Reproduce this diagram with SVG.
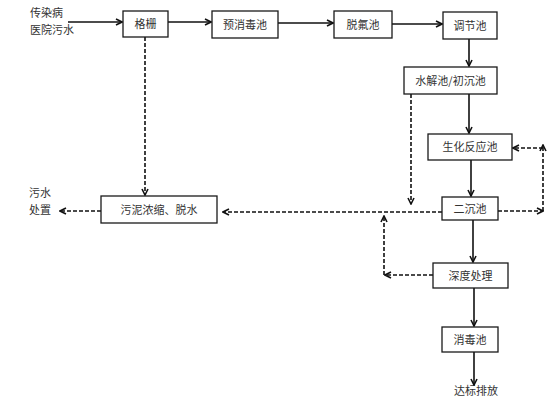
<svg xmlns="http://www.w3.org/2000/svg" width="554" height="409" viewBox="0 0 554 409">
<style>
.box{fill:#fff;stroke:#1a1a1a;stroke-width:1.3}
.t{font-family:"Noto Sans CJK SC","Liberation Sans",sans-serif;font-size:11px;fill:#333}
.m{text-anchor:middle}
.s{stroke:#111;stroke-width:1.6;fill:none}
.d{stroke:#111;stroke-width:1.6;fill:none;stroke-dasharray:4 2}
</style>
<defs>
<marker id="ah" viewBox="0 0 8 8" refX="7" refY="4" markerWidth="8" markerHeight="8" markerUnits="userSpaceOnUse" orient="auto">
<path d="M1,1 L7,4 L1,7" fill="none" stroke="#111" stroke-width="1.6"/>
</marker>
</defs>
<rect width="554" height="409" fill="#fff"/>
<g id="labels">
<text class="t" x="30" y="17">传染病</text>
<text class="t" x="30" y="34">医院污水</text>
<text class="t" x="29" y="197">污水</text>
<text class="t" x="29" y="214">处置</text>
<text class="t m" x="476" y="395">达标排放</text>
</g>
<g id="connectors">
<line class="s" x1="68" y1="22" x2="122" y2="22" marker-end="url(#ah)"/>
<line class="s" x1="168" y1="22" x2="211" y2="22" marker-end="url(#ah)"/>
<line class="s" x1="278" y1="23" x2="333" y2="23" marker-end="url(#ah)"/>
<line class="s" x1="392" y1="24" x2="442" y2="24" marker-end="url(#ah)"/>
<line class="s" x1="469" y1="39" x2="469" y2="66" marker-end="url(#ah)"/>
<line class="s" x1="469" y1="94" x2="469" y2="133" marker-end="url(#ah)"/>
<line class="s" x1="471" y1="160" x2="471" y2="196" marker-end="url(#ah)"/>
<line class="s" x1="473" y1="220" x2="473" y2="262" marker-end="url(#ah)"/>
<line class="s" x1="474" y1="288" x2="474" y2="326" marker-end="url(#ah)"/>
<line class="s" x1="474" y1="352" x2="474" y2="385" marker-end="url(#ah)"/>
<line class="d" x1="145" y1="37" x2="145" y2="195" marker-end="url(#ah)"/>
<line class="d" x1="101" y1="211" x2="60" y2="211" marker-end="url(#ah)"/>
<line class="d" x1="411" y1="94" x2="411" y2="204" marker-end="url(#ah)"/>
<line class="d" x1="442" y1="212" x2="223" y2="212" marker-end="url(#ah)"/>
<line class="d" x1="498" y1="211" x2="543" y2="211" marker-end="url(#ah)"/>
<line class="d" x1="543" y1="211" x2="543" y2="145" marker-end="url(#ah)"/>
<line class="d" x1="543" y1="148" x2="513" y2="148" marker-end="url(#ah)"/>
<line class="d" x1="433" y1="275" x2="385" y2="275" marker-end="url(#ah)"/>
<line class="d" x1="384" y1="275" x2="384" y2="216" marker-end="url(#ah)"/>
</g>
<g id="n-geshan"><rect class="box" x="123" y="11" width="45" height="26"/><text class="t m" x="145.5" y="28">格栅</text></g>
<g id="n-yuxiaodu"><rect class="box" x="212" y="11" width="66" height="27"/><text class="t m" x="245" y="28.5">预消毒池</text></g>
<g id="n-tuofu"><rect class="box" x="334" y="11" width="58" height="27"/><text class="t m" x="363" y="28.5">脱氟池</text></g>
<g id="n-tiaojie"><rect class="box" x="443" y="12" width="54" height="27"/><text class="t m" x="470" y="29.5">调节池</text></g>
<g id="n-shuijie"><rect class="box" x="404" y="67" width="93" height="27"/><text class="t m" x="450.5" y="84.5">水解池/初沉池</text></g>
<g id="n-shenghua"><rect class="box" x="428" y="134" width="84" height="26"/><text class="t m" x="470" y="151">生化反应池</text></g>
<g id="n-erchen"><rect class="box" x="442" y="197" width="56" height="23"/><text class="t m" x="470" y="212.5">二沉池</text></g>
<g id="n-shendu"><rect class="box" x="433" y="263" width="75" height="25"/><text class="t m" x="470.5" y="279.5">深度处理</text></g>
<g id="n-xiaodu"><rect class="box" x="442" y="327" width="56" height="25"/><text class="t m" x="470" y="343.5">消毒池</text></g>
<g id="n-wuni"><rect class="box" x="101" y="196" width="116" height="27"/><text class="t m" x="159" y="213.5">污泥浓缩、脱水</text></g>
</svg>
